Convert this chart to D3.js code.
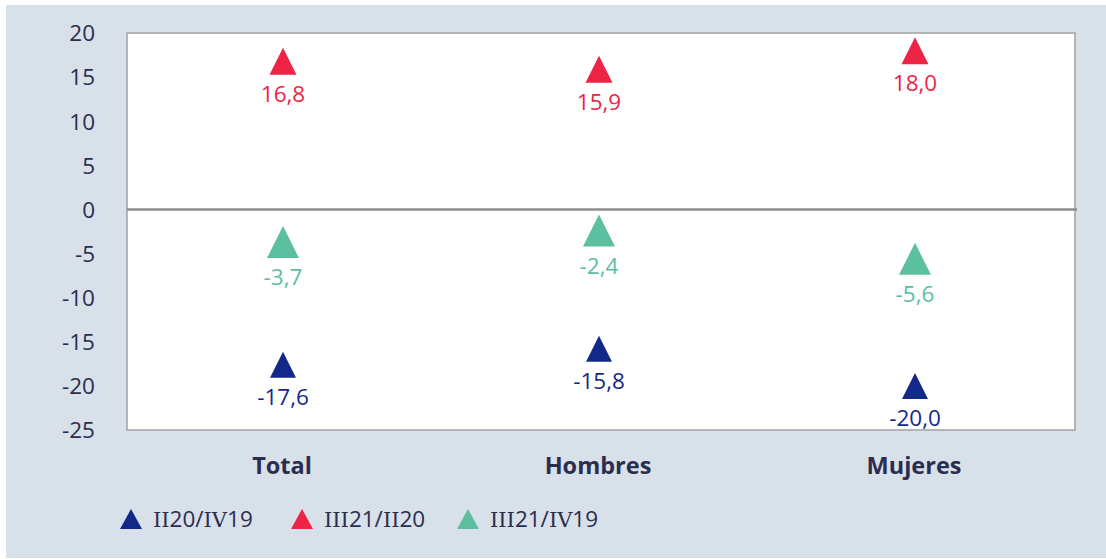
<!DOCTYPE html>
<html><head><meta charset="utf-8">
<script src="https://cdn.jsdelivr.net/npm/d3@7"></script>
<style>
html,body{margin:0;padding:0;background:#ffffff;}
svg{display:block;}
</style></head>
<body>
<svg id="chart" width="1106" height="559"></svg>
<script>
const categories = ["Total", "Hombres", "Mujeres"];
const seriesNames = ["II20/IV19", "III21/II20", "III21/IV19"];
const seriesII20IV19 = [-17.6, -15.8, -20.0];
const seriesIII21II20 = [16.8, 15.9, 18.0];
const seriesIII21IV19 = [-3.7, -2.4, -5.6];
const yTicks = [20, 15, 10, 5, 0, -5, -10, -15, -20, -25];

const colors = ["#13298a", "#ee2447", "#5cbf9f"];
const markerSizes = [[26, 26], [27, 27], [32, 32]];
const allSeries = [seriesII20IV19, seriesIII21II20, seriesIII21IV19];

const svg = d3.select("#chart");
const W = 1106, H = 559;
const plot = {left: 127, right: 1075, top: 33, bottom: 430};
const FONT = "'Open Sans', sans-serif";

svg.append("rect").attr("x", 6).attr("y", 5).attr("width", W - 6).attr("height", H - 6)
  .attr("fill", "#d8e0ea");

const x = d3.scaleBand().domain(categories).range([plot.left, plot.right]);
const y = d3.scaleLinear().domain([-25, 20]).range([plot.bottom, plot.top]);

svg.append("rect").attr("x", plot.left).attr("y", plot.top)
  .attr("width", plot.right - plot.left).attr("height", plot.bottom - plot.top)
  .attr("fill", "#ffffff").attr("stroke", "#a6a6a6").attr("stroke-width", 1.6);

// y axis
const yAxis = d3.axisLeft(y).tickValues(yTicks).tickSize(0).tickPadding(0)
  .tickFormat(d => String(d));
const gy = svg.append("g").attr("transform", `translate(95,0)`).call(yAxis);
gy.select(".domain").remove();
gy.selectAll("text").attr("font-family", FONT).attr("font-size", 22.5)
  .attr("fill", "#2b2d4e").attr("dy", "0.35em");

// zero line
svg.append("line").attr("x1", plot.left).attr("x2", plot.right + 2)
  .attr("y1", y(0)).attr("y2", y(0)).attr("stroke", "#8c8c8c").attr("stroke-width", 2.5);

// x axis
const xAxis = d3.axisBottom(x).tickSize(0).tickPadding(0);
const gx = svg.append("g").attr("transform", `translate(-3,${plot.bottom})`).call(xAxis);
gx.select(".domain").remove();
gx.selectAll("text").attr("font-family", FONT).attr("font-size", 23.5)
  .attr("font-weight", "bold").attr("fill", "#2b2d4e").attr("dy", null).attr("y", 44);

function tri(cx, cy, w, h) {
  const p = d3.path();
  p.moveTo(cx, cy - h / 2);
  p.lineTo(cx + w / 2, cy + h / 2);
  p.lineTo(cx - w / 2, cy + h / 2);
  p.closePath();
  return p.toString();
}

const fmt = v => v.toFixed(1).replace(".", ",");

allSeries.forEach((vals, si) => {
  const g = svg.append("g");
  const [w, h] = markerSizes[si];
  const data = categories.map((c, i) => ({c, v: vals[i]}));
  g.selectAll("path").data(data).join("path")
    .attr("d", d => tri(x(d.c) + x.bandwidth() / 2 - 2, y(d.v), w, h))
    .attr("fill", colors[si]);
  g.selectAll("text").data(data).join("text")
    .attr("x", d => x(d.c) + x.bandwidth() / 2 - 2)
    .attr("y", d => y(d.v) + h / 2 + 27)
    .attr("text-anchor", "middle")
    .attr("font-family", FONT).attr("font-size", 22.5)
    .attr("fill", colors[si])
    .text(d => fmt(d.v));
});

// legend
const legendX = [131, 302, 468];
const legend = svg.append("g");
seriesNames.forEach((name, i) => {
  const lx = legendX[i], ly = 519;
  legend.append("path").attr("d", tri(lx, ly, 22, 20)).attr("fill", colors[i]);
  const t = legend.append("text").attr("x", lx + 22).attr("y", ly + 8)
    .attr("fill", "#2b2d4e");
  const parts = name.match(/[IV]+|[^IV]+/g);
  parts.forEach(p => {
    const roman = /^[IV]+$/.test(p);
    t.append("tspan")
      .attr("font-family", roman ? "'DejaVu Serif', serif" : FONT)
      .attr("font-size", roman ? 21 : 22.5)
      .text(p);
  });
});
</script>
</body></html>
